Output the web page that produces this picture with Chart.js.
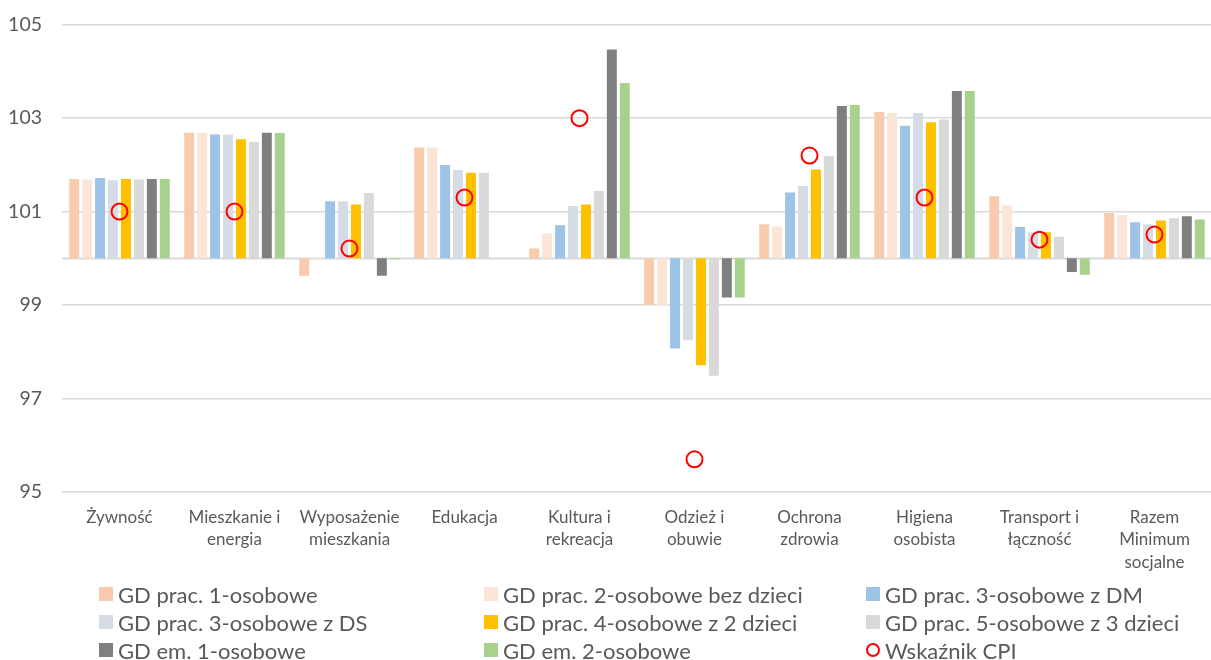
<!DOCTYPE html>
<html lang="pl">
<head>
<meta charset="utf-8">
<script src="https://cdn.jsdelivr.net/npm/chart.js@4"></script>
<style>
  html, body { margin: 0; padding: 0; background: #fff; }
  .wrap { position: relative; width: 1211px; height: 660px; overflow: hidden; }
  #cpiChart { position: absolute; left: 0; top: -7px; }
  #legend { position: absolute; left: 0; top: 0; width: 1211px; height: 660px; pointer-events: none;
    font-family: Lato, "Noto Sans", sans-serif; font-size: 22px; color: #595959; }
  .lg-item { position: absolute; display: flex; align-items: center; white-space: nowrap; }
  .lg-box { width: 14px; height: 14px; margin-right: 5px; }
  .lg-ring { width: 14px; height: 14px; box-sizing: border-box; border: 2px solid #ff0000; border-radius: 50%; margin-right: 5px; }
</style>
</head>
<body>
<div class="wrap">
  <canvas id="cpiChart" width="1222" height="667"></canvas>
  <div id="legend"></div>
</div>
<script>
// ==========================
// Data
// ==========================
const categories = [
  'Żywność', ['Mieszkanie i', 'energia'], ['Wyposażenie', 'mieszkania'], 'Edukacja',
  ['Kultura i', 'rekreacja'], ['Odzież i', 'obuwie'], ['Ochrona', 'zdrowia'],
  ['Higiena', 'osobista'], ['Transport i', 'łączność'], ['Razem', 'Minimum', 'socjalne']
];
const yTicks = [95, 97, 99, 101, 103, 105];

const seriesNames = [
  'GD prac. 1-osobowe', 'GD prac. 2-osobowe bez dzieci', 'GD prac. 3-osobowe z DM',
  'GD prac. 3-osobowe z DS', 'GD prac. 4-osobowe z 2 dzieci', 'GD prac. 5-osobowe z 3 dzieci',
  'GD em. 1-osobowe', 'GD em. 2-osobowe'
];
const prac1 = [101.70, 102.69, 99.63, 102.37, 100.21, 99.00, 100.73, 103.13, 101.33, 100.97];
const prac2 = [101.69, 102.68, 99.98, 102.37, 100.53, 99.00, 100.68, 103.11, 101.13, 100.93];
const prac3DM = [101.72, 102.65, 101.22, 102.00, 100.71, 98.07, 101.41, 102.84, 100.67, 100.77];
const prac3DS = [101.67, 102.65, 101.22, 101.89, 101.12, 98.25, 101.55, 103.11, 100.56, 100.73];
const prac4 = [101.70, 102.55, 101.15, 101.83, 101.15, 97.71, 101.90, 102.91, 100.56, 100.81];
const prac5 = [101.69, 102.49, 101.40, 101.83, 101.44, 97.49, 102.19, 102.97, 100.46, 100.86];
const em1 = [101.70, 102.69, 99.63, 100.00, 104.47, 99.16, 103.26, 103.58, 99.71, 100.90];
const em2 = [101.70, 102.68, 99.98, 100.00, 103.75, 99.16, 103.28, 103.58, 99.65, 100.83];
const cpi = [101.0, 101.0, 100.21, 101.30, 103.0, 95.70, 102.20, 101.30, 100.40, 100.51];

const seriesValues = [prac1, prac2, prac3DM, prac3DS, prac4, prac5, em1, em2];
const seriesColors = ['#F8CBAD', '#FBE5D6', '#9DC3E6', '#D6DCE5', '#FFC000', '#D9D9D9', '#7F7F7F', '#A9D18E'];

// ==========================
// Baseline at 100
// ==========================
const baseLine = {
  id: 'baseLine',
  beforeDatasetsDraw(chart) {
    const { ctx, chartArea, scales: { y } } = chart;
    const py = Math.round(y.getPixelForValue(100)) + 0.5;
    ctx.save();
    ctx.strokeStyle = '#D9D9D9';
    ctx.lineWidth = 2;
    ctx.beginPath();
    ctx.moveTo(chartArea.left, py);
    ctx.lineTo(chartArea.right, py);
    ctx.stroke();
    ctx.restore();
  }
};

const datasets = [{
  type: 'line',
  label: 'Wskaźnik CPI',
  data: cpi,
  showLine: false,
  order: 0,
  pointStyle: 'circle',
  pointRadius: 8,
  pointHoverRadius: 8,
  pointBorderWidth: 2,
  borderColor: '#FF0000',
  backgroundColor: 'rgba(0,0,0,0)'
}];
seriesValues.forEach((vals, i) => {
  datasets.push({
    type: 'bar',
    label: seriesNames[i],
    data: vals,
    base: 100,
    order: 1,
    backgroundColor: seriesColors[i],
    categoryPercentage: 0.9,
    barPercentage: 0.77
  });
});

new Chart(document.getElementById('cpiChart').getContext('2d'), {
  type: 'bar',
  data: { labels: categories, datasets: datasets },
  options: {
    responsive: false,
    animation: false,
    layout: { padding: { top: 18, right: 0, bottom: 88, left: 0 } },
    plugins: { legend: { display: false }, tooltip: { enabled: false } },
    scales: {
      x: {
        grid: { display: false },
        border: { display: false },
        ticks: {
          color: '#595959',
          font: { family: 'Lato, "Noto Sans", sans-serif', size: 17, lineHeight: 1.32 },
          padding: 6,
          maxRotation: 0,
          autoSkip: false
        },
        afterFit(scale) { scale.height = 80; }
      },
      y: {
        min: 95,
        max: 105,
        afterBuildTicks(scale) { scale.ticks = yTicks.map(v => ({ value: v })); },
        grid: { color: '#D9D9D9', lineWidth: 1.5, drawTicks: false },
        border: { display: false },
        ticks: {
          color: '#595959',
          font: { family: 'Lato, "Noto Sans", sans-serif', size: 19.5 },
          padding: 20
        },
        afterFit(scale) { scale.width = 62; }
      }
    }
  },
  plugins: [baseLine]
});

// ==========================
// Legend (3 columns)
// ==========================
const legendCols = [99, 484, 866];
const legendRows = [594, 622, 650];
const legendEl = document.getElementById('legend');
const legendItems = seriesNames.map((n, i) => ({ name: n, color: seriesColors[i] }));
legendItems.push({ name: 'Wskaźnik CPI', ring: true });
legendItems.forEach((item, i) => {
  const div = document.createElement('div');
  div.className = 'lg-item';
  div.style.left = legendCols[i % 3] + 'px';
  div.style.top = (legendRows[Math.floor(i / 3)] - 14) + 'px';
  div.style.height = '28px';
  const box = document.createElement('span');
  if (item.ring) {
    box.className = 'lg-ring';
  } else {
    box.className = 'lg-box';
    box.style.background = item.color;
  }
  div.appendChild(box);
  div.appendChild(document.createTextNode(item.name));
  legendEl.appendChild(div);
});
</script>
</body>
</html>
